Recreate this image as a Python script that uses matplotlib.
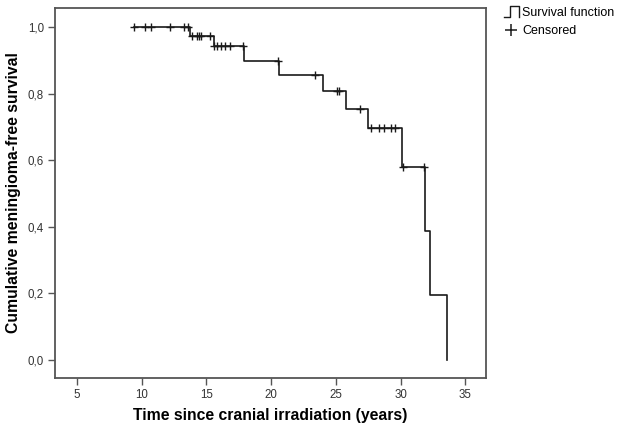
import numpy as np
import matplotlib
matplotlib.use('Agg')
import matplotlib.pyplot as plt
from matplotlib.legend_handler import HandlerBase
from matplotlib.lines import Line2D
from matplotlib.ticker import FuncFormatter

plt.rcParams['font.family'] = ['Liberation Sans', 'DejaVu Sans']

# Kaplan-Meier curve
step_times = [9.4, 13.7, 15.55, 17.9, 20.6, 24.0, 25.75, 27.45, 30.1, 31.85, 32.3, 33.6]
step_surv = [1.0, 0.974, 0.943, 0.899, 0.855, 0.808, 0.754, 0.696, 0.579, 0.387, 0.195, 0.0]

# censored observations
censor_times = [9.4, 10.25, 10.7, 12.2, 13.3, 13.55,
                13.9, 14.25, 14.4, 14.55, 15.25,
                15.6, 15.8, 16.1, 16.45, 16.8, 17.85,
                20.5, 23.35, 25.05, 25.25, 26.9,
                27.75, 28.3, 28.75, 29.25, 29.6,
                30.2, 31.8]

xticks = [5, 10, 15, 20, 25, 30, 35]
yticks = [0.0, 0.2, 0.4, 0.6, 0.8, 1.0]

line_col = '#1a1a1a'
spine_col = '#555555'


def surv_at(t):
    # level of the step curve at time t
    idx = np.searchsorted(step_times, t, side='right') - 1
    return np.array(step_surv)[idx]


class StepHandler(HandlerBase):
    def create_artists(self, legend, orig_handle, xdescent, ydescent,
                       width, height, fontsize, trans):
        lo = -ydescent - 0.1 * height
        hi = -ydescent + 1.15 * height
        x0 = -xdescent
        xs = [x0, x0 + 0.45 * width, x0 + 0.45 * width, x0 + width, x0 + width]
        ys = [lo, lo, hi, hi, lo]
        ln = Line2D(xs, ys, color=line_col, lw=1.0, transform=trans)
        return [ln]


fig = plt.figure(figsize=(6.19, 4.26), dpi=100)
ax = fig.add_axes([55 / 619, 48 / 426, 431 / 619, 370 / 426])

ax.step(step_times, step_surv, where='post', color=line_col, lw=1.2)
ct = np.array(censor_times)
ax.plot(ct, surv_at(ct), linestyle='none', marker='+', markersize=6,
        mew=1.0, color=line_col)

ax.set_xlim(3.3, 36.6)
ax.set_ylim(-0.054, 1.057)
ax.set_xticks(xticks)
ax.set_yticks(yticks)
ax.yaxis.set_major_formatter(FuncFormatter(lambda v, p: f'{v:.1f}'.replace('.', ',')))

for s in ax.spines.values():
    s.set_color(spine_col)
    s.set_linewidth(1.3)
ax.tick_params(direction='out', length=5, width=1, color=spine_col,
               labelsize=8.3, labelcolor='#333333', pad=3)

ax.set_xlabel('Time since cranial irradiation (years)', fontsize=11.3,
              fontweight='bold', labelpad=5)
ax.set_ylabel('Cumulative meningioma-free survival', fontsize=11.3,
              fontweight='bold', labelpad=5)

h1 = Line2D([], [], color=line_col)
h2 = Line2D([], [], linestyle='none', marker='+', markersize=8, mew=1.1,
            color=line_col)
fig.legend([h1, h2], ['Survival function', 'Censored'],
           handler_map={h1: StepHandler()},
           loc='upper left', bbox_to_anchor=(496 / 619, 1.0),
           frameon=False, fontsize=9, handlelength=1.2, handletextpad=0.3,
           labelspacing=0.45, borderaxespad=0.2)

fig.savefig('out.png', dpi=100)
